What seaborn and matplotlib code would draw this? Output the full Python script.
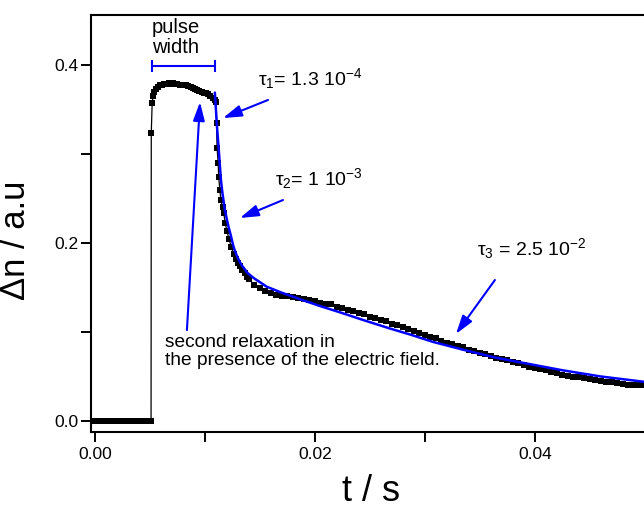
import matplotlib
matplotlib.use("Agg")
import matplotlib.pyplot as plt
import seaborn as sns

# Measured transient: time (s) and induced change Δn (a.u.)
t_data = [
    0.0000, 0.0004, 0.0008, 0.0012, 0.0016, 0.0020, 0.0024, 0.0028, 0.0032,
    0.0036, 0.0040, 0.0044, 0.0048, 0.0051,
    0.00512, 0.00520, 0.00528, 0.00540, 0.00555, 0.00570, 0.00590, 0.00610,
    0.00630, 0.00650, 0.00670, 0.00690, 0.00710, 0.00730, 0.00750, 0.00770,
    0.00790, 0.00810, 0.00830, 0.00850, 0.00870, 0.00890, 0.00910, 0.00930,
    0.00950, 0.00970, 0.00990, 0.01010, 0.01030, 0.01050, 0.01070, 0.01090,
    0.01100, 0.01105, 0.01110, 0.01120, 0.01125, 0.01135, 0.01145, 0.01160,
    0.01170, 0.01185, 0.01200, 0.01220, 0.01240, 0.01260, 0.01280, 0.01300,
    0.01320, 0.01340, 0.01360, 0.01380, 0.01400, 0.01450, 0.01500, 0.01550,
    0.0160, 0.0165, 0.0170, 0.0175, 0.0180, 0.0185, 0.0190, 0.0195, 0.0200,
    0.0205, 0.0210, 0.0215, 0.0220, 0.0225, 0.0230, 0.0235, 0.0240, 0.0245,
    0.0250, 0.0255, 0.0260, 0.0265, 0.0270, 0.0275, 0.0280, 0.0285, 0.0290,
    0.0295, 0.0300, 0.0305, 0.0310, 0.0315, 0.0320, 0.0325, 0.0330, 0.0335,
    0.0340, 0.0345, 0.0350, 0.0355, 0.0360, 0.0365, 0.0370, 0.0375, 0.0380,
    0.0385, 0.0390, 0.0395, 0.0400, 0.0405, 0.0410, 0.0415, 0.0420, 0.0425,
    0.0430, 0.0435, 0.0440, 0.0445, 0.0450, 0.0455, 0.0460, 0.0465, 0.0470,
    0.0475, 0.0480, 0.0485, 0.0490, 0.0495, 0.0500, 0.0505,
]
dn_data = [
    0.000, 0.000, 0.000, 0.000, 0.000, 0.000, 0.000, 0.000, 0.000,
    0.000, 0.000, 0.000, 0.000, 0.000,
    0.324, 0.357, 0.365, 0.370, 0.373, 0.375, 0.377, 0.378,
    0.379, 0.379, 0.380, 0.379, 0.380, 0.379, 0.379, 0.378,
    0.378, 0.377, 0.377, 0.376, 0.375, 0.374, 0.373, 0.372,
    0.371, 0.370, 0.369, 0.368, 0.367, 0.365, 0.363, 0.361,
    0.358, 0.335, 0.307, 0.290, 0.274, 0.260, 0.248, 0.240,
    0.234, 0.222, 0.213, 0.204, 0.195, 0.188, 0.182, 0.178,
    0.174, 0.170, 0.166, 0.162, 0.159, 0.153, 0.149, 0.146,
    0.144, 0.142, 0.141, 0.140, 0.139, 0.138, 0.137, 0.136, 0.135,
    0.133, 0.132, 0.131, 0.128, 0.127, 0.125, 0.124, 0.121, 0.120,
    0.117, 0.116, 0.114, 0.112, 0.109, 0.108, 0.106, 0.103, 0.101,
    0.099, 0.097, 0.094, 0.093, 0.090, 0.088, 0.087, 0.084, 0.083,
    0.080, 0.079, 0.076, 0.075, 0.073, 0.071, 0.070, 0.068, 0.066,
    0.065, 0.063, 0.061, 0.060, 0.058, 0.057, 0.055, 0.054, 0.052,
    0.051, 0.050, 0.049, 0.048, 0.047, 0.046, 0.045, 0.044, 0.044,
    0.043, 0.042, 0.041, 0.041, 0.040, 0.040, 0.039,
]

# Three-exponential relaxation fit after the field is switched off
t_fit = [
    0.01090, 0.01110, 0.01130, 0.01145, 0.01160, 0.01180, 0.01200, 0.01215,
    0.01234, 0.01255, 0.01275, 0.01300, 0.01320, 0.01340, 0.01365, 0.01390,
    0.01420, 0.01450, 0.01500, 0.01560, 0.01680, 0.01860, 0.02050, 0.02230,
    0.02450, 0.02680, 0.02870, 0.03070, 0.03350, 0.03650, 0.03950, 0.04250,
    0.04600, 0.04930, 0.05060,
]
dn_fit = [
    0.369, 0.330, 0.297, 0.271, 0.255, 0.238, 0.226, 0.218,
    0.209, 0.198, 0.190, 0.183, 0.178, 0.174, 0.170, 0.166,
    0.163, 0.160, 0.156, 0.151, 0.145, 0.137, 0.129, 0.122,
    0.113, 0.104, 0.097, 0.089, 0.080, 0.071, 0.064, 0.057,
    0.050, 0.045, 0.043,
]

# Time constants of the fit
tau_labels = [r"τ$_1$= 1.3 10$^{-4}$", r"τ$_2$= 1 10$^{-3}$", r"τ$_3$ = 2.5 10$^{-2}$"]

x_ticks = [0.00, 0.02, 0.04]
y_ticks = [0.0, 0.2, 0.4]

sns.set_theme(style="ticks")
plt.rcParams["font.family"] = ["Liberation Sans", "DejaVu Sans"]
plt.rcParams["mathtext.fontset"] = "custom"
plt.rcParams["mathtext.rm"] = "Liberation Sans"
plt.rcParams["mathtext.it"] = "Liberation Sans"
plt.rcParams["mathtext.default"] = "rm"

fig = plt.figure(figsize=(6.44, 5.08), dpi=100)
ax = fig.add_axes([91 / 644, 76 / 508, 560 / 644, 417 / 508])

sns.lineplot(x=t_data, y=dn_data, ax=ax, estimator=None, sort=False,
             color="black", lw=0.9, marker="s", markersize=3.8,
             markeredgewidth=0, markerfacecolor="black")
sns.lineplot(x=t_fit, y=dn_fit, ax=ax, estimator=None, sort=False,
             color="#0000ff", lw=1.8)

ax.set_xlim(-0.00036, 0.05055)
ax.set_ylim(-0.01236, 0.4562)
ax.set_xticks(x_ticks)
ax.set_xticklabels(["0.00", "0.02", "0.04"])
ax.set_yticks(y_ticks)
ax.set_yticklabels(["0.0", "0.2", "0.4"])
ax.set_xticks([0.01, 0.03, 0.05], minor=True)
ax.set_yticks([0.1, 0.3], minor=True)
ax.tick_params(which="both", direction="out", length=7, width=1.4,
               color="black", labelsize=12.5, labelcolor="black")
ax.tick_params(axis="x", pad=4)
ax.tick_params(axis="y", pad=2)
for side in ("left", "bottom", "top"):
    ax.spines[side].set_visible(True)
    ax.spines[side].set_linewidth(1.5)
    ax.spines[side].set_color("black")
ax.spines["right"].set_visible(False)
ax.grid(False)

ax.set_xlabel("t / s", fontsize=26, color="black")
ax.xaxis.set_label_coords(0.5, -0.100)
ax.xaxis.label.set_va("top")
ax.set_ylabel("Δn / a.u", fontsize=25, color="black")
ax.yaxis.set_label_coords(-0.105, 0.46)

blue = "#0000ff"

# pulse width marker
ax.errorbar([0.00805], [0.399], xerr=[0.00285], color=blue, lw=1.5,
            capsize=4, capthick=1.5, fmt="none")
ax.text(0.00518, 0.4528, "pulse\nwidth", fontsize=14.5, ha="left", va="top",
        linespacing=1.05, color="black")

arrow = dict(arrowstyle="-|>,head_length=0.8,head_width=0.25", color=blue,
             lw=1.5, shrinkA=0, shrinkB=0, mutation_scale=14)

ax.annotate("", xy=(0.01164, 0.3404), xytext=(0.01573, 0.3607), arrowprops=arrow)
ax.text(0.01482, 0.3775, tau_labels[0], fontsize=14, ha="left", va="baseline",
        color="black")

ax.annotate("", xy=(0.01318, 0.2281), xytext=(0.01709, 0.2483), arrowprops=arrow)
ax.text(0.01636, 0.265, tau_labels[1], fontsize=14, ha="left", va="baseline",
        color="black")

ax.annotate("", xy=(0.03282, 0.0978), xytext=(0.03636, 0.1584), arrowprops=arrow)
ax.text(0.03473, 0.1865, tau_labels[2], fontsize=14, ha="left", va="baseline",
        color="black")

ax.annotate("", xy=(0.00955, 0.3584), xytext=(0.00836, 0.1022), arrowprops=arrow)
ax.text(0.00636, 0.0978, "second relaxation in\nthe presence of the electric field.",
        fontsize=13.8, ha="left", va="top", linespacing=1.1, color="black")

fig.savefig("out.png", dpi=100)
